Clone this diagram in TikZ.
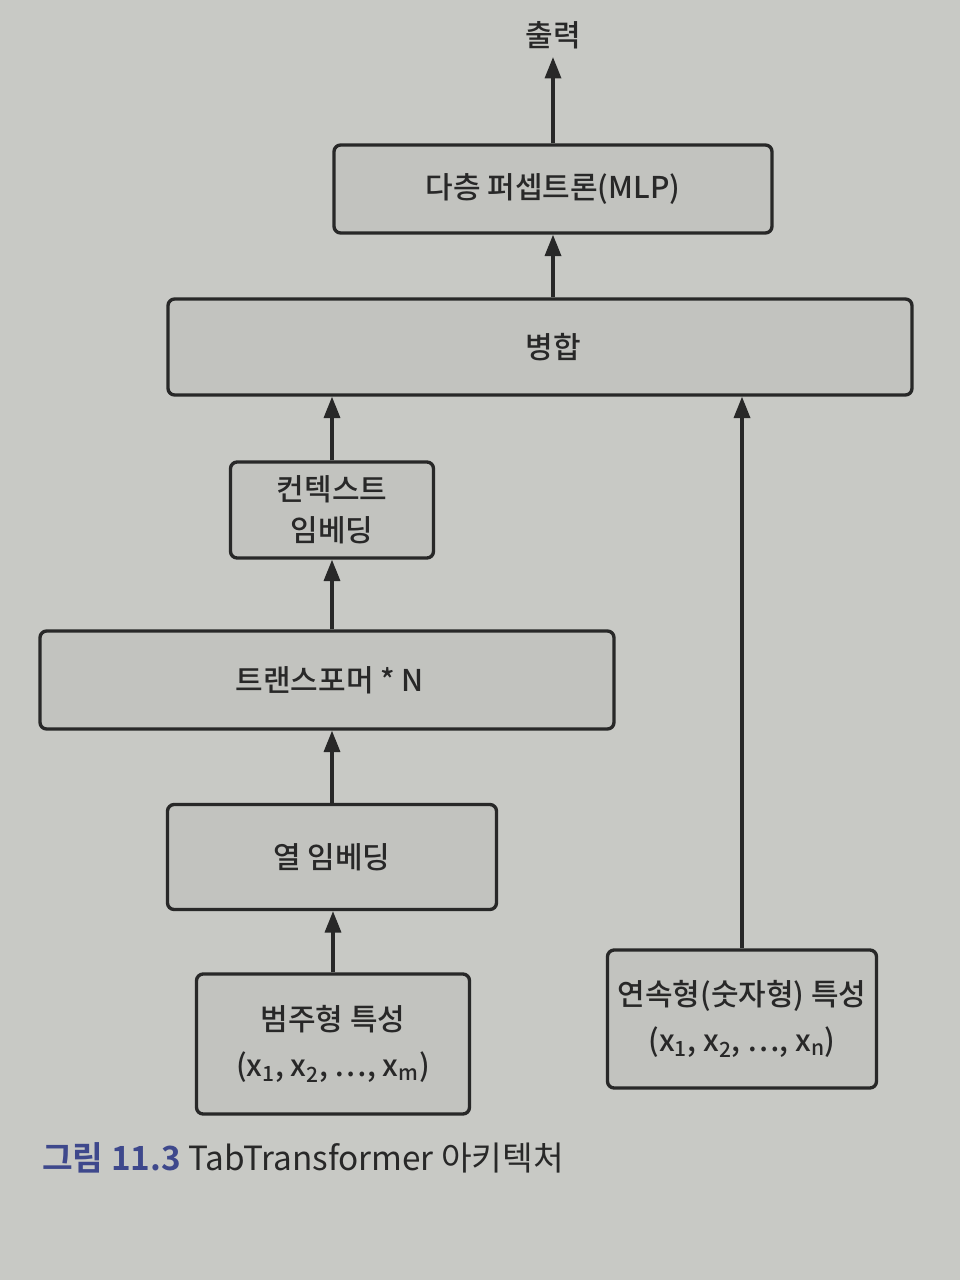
\documentclass[tikz,border=0pt]{standalone}
\usepackage{fontspec}
\setmainfont{Noto Sans CJK KR}[UprightFont={Noto Sans CJK KR Medium}, BoldFont={Noto Sans CJK KR Bold}]
\newfontfamily\capfont{Noto Sans CJK KR}
\usetikzlibrary{arrows.meta}
\definecolor{paper}{RGB}{200,201,197}
\definecolor{boxfill}{RGB}{194,195,191}
\definecolor{ink}{RGB}{40,40,40}
\definecolor{capblue}{RGB}{62,72,140}
\tikzset{
  blk/.style={draw=ink, fill=boxfill, line width=2.5pt, rounded corners=5pt,
    text=ink, font=\fontsize{22.5}{31}\selectfont, align=center, inner sep=0pt},
  arr/.style={draw=ink, line width=2.5pt, -{Triangle[length=16pt,width=12pt]}},
  lbl/.style={text=ink, font=\fontsize{22.5}{31}\selectfont, inner sep=6pt}
}
\begin{document}
\begin{tikzpicture}[x=0.75pt,y=-0.75pt]
\useasboundingbox[fill=paper] (0,0) rectangle (960,1280);
\node[lbl] (out) at (553,35) {출력};
\node[blk, minimum width=438*0.75pt, minimum height=88*0.75pt] (mlp) at (553,189) {다층 퍼셉트론(MLP)};
\node[blk, minimum width=744*0.75pt, minimum height=96*0.75pt] (merge) at (540,347) {\hspace*{20pt}병합};
\node[blk, minimum width=203*0.75pt, minimum height=96*0.75pt] (ctx) at (332,510) {컨텍스트\\임베딩};
\node[blk, minimum width=574*0.75pt, minimum height=98*0.75pt] (tr) at (327,680) {\hspace*{4pt}트랜스포머 * N};
\node[blk, minimum width=329*0.75pt, minimum height=105*0.75pt] (col) at (332,857) {열 임베딩};
\node[blk, minimum width=273*0.75pt, minimum height=140*0.75pt] (cat) at (333,1044) {범주형 특성\\[3pt](x\textsubscript{1}, x\textsubscript{2}, ⋯, x\textsubscript{m})};
\node[blk, minimum width=269*0.75pt, minimum height=138*0.75pt] (num) at (742,1019) {연속형(숫자형) 특성\\[3pt](x\textsubscript{1}, x\textsubscript{2}, ⋯, x\textsubscript{n})};
\draw[arr] (mlp.north) -- (out.south);
\draw[arr] (merge.north -| mlp.north) -- (mlp.south);
\draw[arr] (ctx.north) -- (merge.south -| ctx.north);
\draw[arr] (tr.north -| ctx.south) -- (ctx.south);
\draw[arr] (col.north) -- (tr.south -| col.north);
\draw[arr] (cat.north) -- (col.south -| cat.north);
\draw[arr] (num.north) -- (merge.south -| num.north);
\node[anchor=base west, inner sep=0pt, font=\fontsize{25}{30}\selectfont] (cap) at (42,1170)
  {\textcolor{capblue}{\textbf{그림 11.3}} \textcolor{ink}{\capfont TabTransformer 아키텍처}};
\end{tikzpicture}
\end{document}
